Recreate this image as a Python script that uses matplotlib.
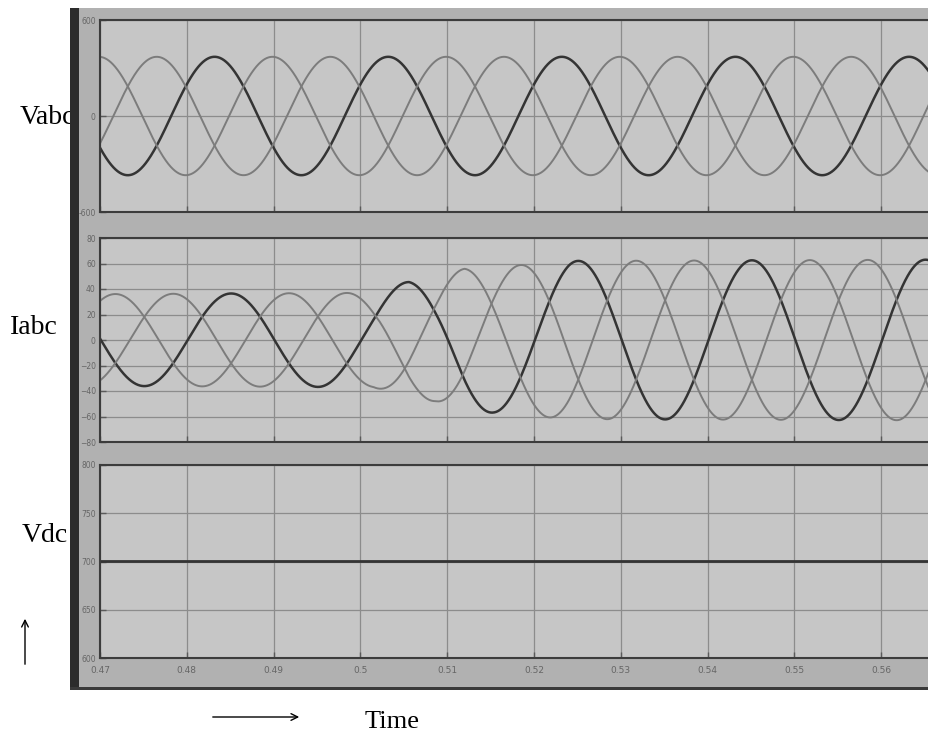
import numpy as np
import matplotlib.pyplot as plt
from matplotlib.patches import Rectangle, FancyArrowPatch

# scope time window and supply frequency
t_start, t_end = 0.47, 0.5655
freq = 50.0

# three phase voltage
v_amp = 370.0
v_peak_t = 0.4832          # time of a peak of the dark phase

# phase currents: amplitude read at the peaks / troughs
i_env_t = [0.47, 0.5015, 0.5056, 0.5086, 0.512, 0.5153, 0.524, 0.5655]
i_env_a = [36, 37, 46, 48, 56, 57, 62, 63]
i_peak_t = 0.4851          # time of a peak of the dark phase

# dc link voltage
vdc_level = 700.0

xticks = [0.47, 0.48, 0.49, 0.50, 0.51, 0.52, 0.53, 0.54, 0.55, 0.56]
xtick_labels = ['0.47', '0.48', '0.49', '0.5', '0.51', '0.52', '0.53', '0.54', '0.55', '0.56']
v_ticks = [-600, 0, 600]
v_labels = ['-600', '0', '600']
i_ticks = [-80, -60, -40, -20, 0, 20, 40, 60, 80]
dc_ticks = [600, 650, 700, 750, 800]

phase_shift = [0.0, 2 * np.pi / 3, -2 * np.pi / 3]
dark, light = '#343434', '#7c7c7c'

t = np.linspace(t_start, t_end, 3000)
w = 2 * np.pi * freq
i_env = np.interp(t, i_env_t, i_env_a)

W, H = 929, 738
fig = plt.figure(figsize=(W / 100, H / 100), dpi=100)


def fx(px):
    return px / W


def fy(py):
    return 1 - py / H


# scanned scope background
fig.add_artist(Rectangle((fx(70), fy(690)), fx(W - 70), (690 - 8) / H,
                         transform=fig.transFigure, fc='#b1b1b1', ec='none', zorder=-1))
fig.add_artist(Rectangle((fx(70), fy(690)), fx(9), (690 - 8) / H,
                         transform=fig.transFigure, fc='#2c2c2c', ec='none', zorder=-1))
fig.add_artist(Rectangle((fx(70), fy(690)), fx(W - 70), 3 / H,
                         transform=fig.transFigure, fc='#3a3a3a', ec='none', zorder=-1))

left = fx(100)
width = 1 - left
ax_v = fig.add_axes([left, fy(212), width, (212 - 20) / H])
ax_i = fig.add_axes([left, fy(442), width, (442 - 238) / H])
ax_d = fig.add_axes([left, fy(658), width, (658 - 465) / H])

for ax in (ax_v, ax_i, ax_d):
    ax.set_facecolor('#c6c6c6')
    ax.set_xlim(t_start, t_end)
    ax.set_xticks(xticks)
    ax.grid(True, color='#8c8c8c', lw=0.9)
    ax.tick_params(direction='in', length=4, width=1, colors='#5a5a5a',
                   labelsize=5.5, labelcolor='#666666', pad=3)
    for s in ax.spines.values():
        s.set_color('#3c3c3c')
        s.set_linewidth(1.5)
    ax.spines['right'].set_visible(False)

ax_v.set_ylim(-600, 600)
ax_v.set_yticks(v_ticks)
ax_v.set_yticklabels(v_labels)
ax_v.set_xticklabels([])
for k, ph in enumerate(phase_shift):
    ax_v.plot(t, v_amp * np.cos(w * (t - v_peak_t) + ph),
              color=dark if k == 0 else light, lw=1.8 if k == 0 else 1.4)

ax_i.set_ylim(-80, 80)
ax_i.set_yticks(i_ticks)
ax_i.set_xticklabels([])
for k, ph in enumerate(phase_shift):
    ax_i.plot(t, i_env * np.cos(w * (t - i_peak_t) + ph),
              color=dark if k == 0 else light, lw=1.8 if k == 0 else 1.4)

ax_d.set_ylim(600, 800)
ax_d.set_yticks(dc_ticks)
ax_d.set_xticklabels(xtick_labels)
ax_d.tick_params(axis='x', labelsize=6.5, pad=6)
ax_d.plot(t, np.full_like(t, vdc_level), color=dark, lw=2.0)

# hand written style labels
serif = ['Liberation Serif', 'DejaVu Serif']
fig.text(fx(20), fy(118), 'Vabc', family=serif, fontsize=20, va='center', zorder=-2)
fig.text(fx(10), fy(327), 'Iabc', family=serif, fontsize=20, va='center', zorder=-2)
fig.text(fx(22), fy(535), 'Vdc', family=serif, fontsize=20, va='center', zorder=-2)
fig.text(fx(365), fy(722), 'Time', family=serif, fontsize=19, va='center', zorder=-2)

fig.add_artist(FancyArrowPatch((fx(25), fy(667)), (fx(25), fy(616)),
                               transform=fig.transFigure, arrowstyle='->',
                               mutation_scale=12, lw=1, color='black'))
fig.add_artist(FancyArrowPatch((fx(210), fy(717)), (fx(302), fy(717)),
                               transform=fig.transFigure, arrowstyle='->',
                               mutation_scale=12, lw=1, color='black'))

fig.savefig('out.png', dpi=100)
